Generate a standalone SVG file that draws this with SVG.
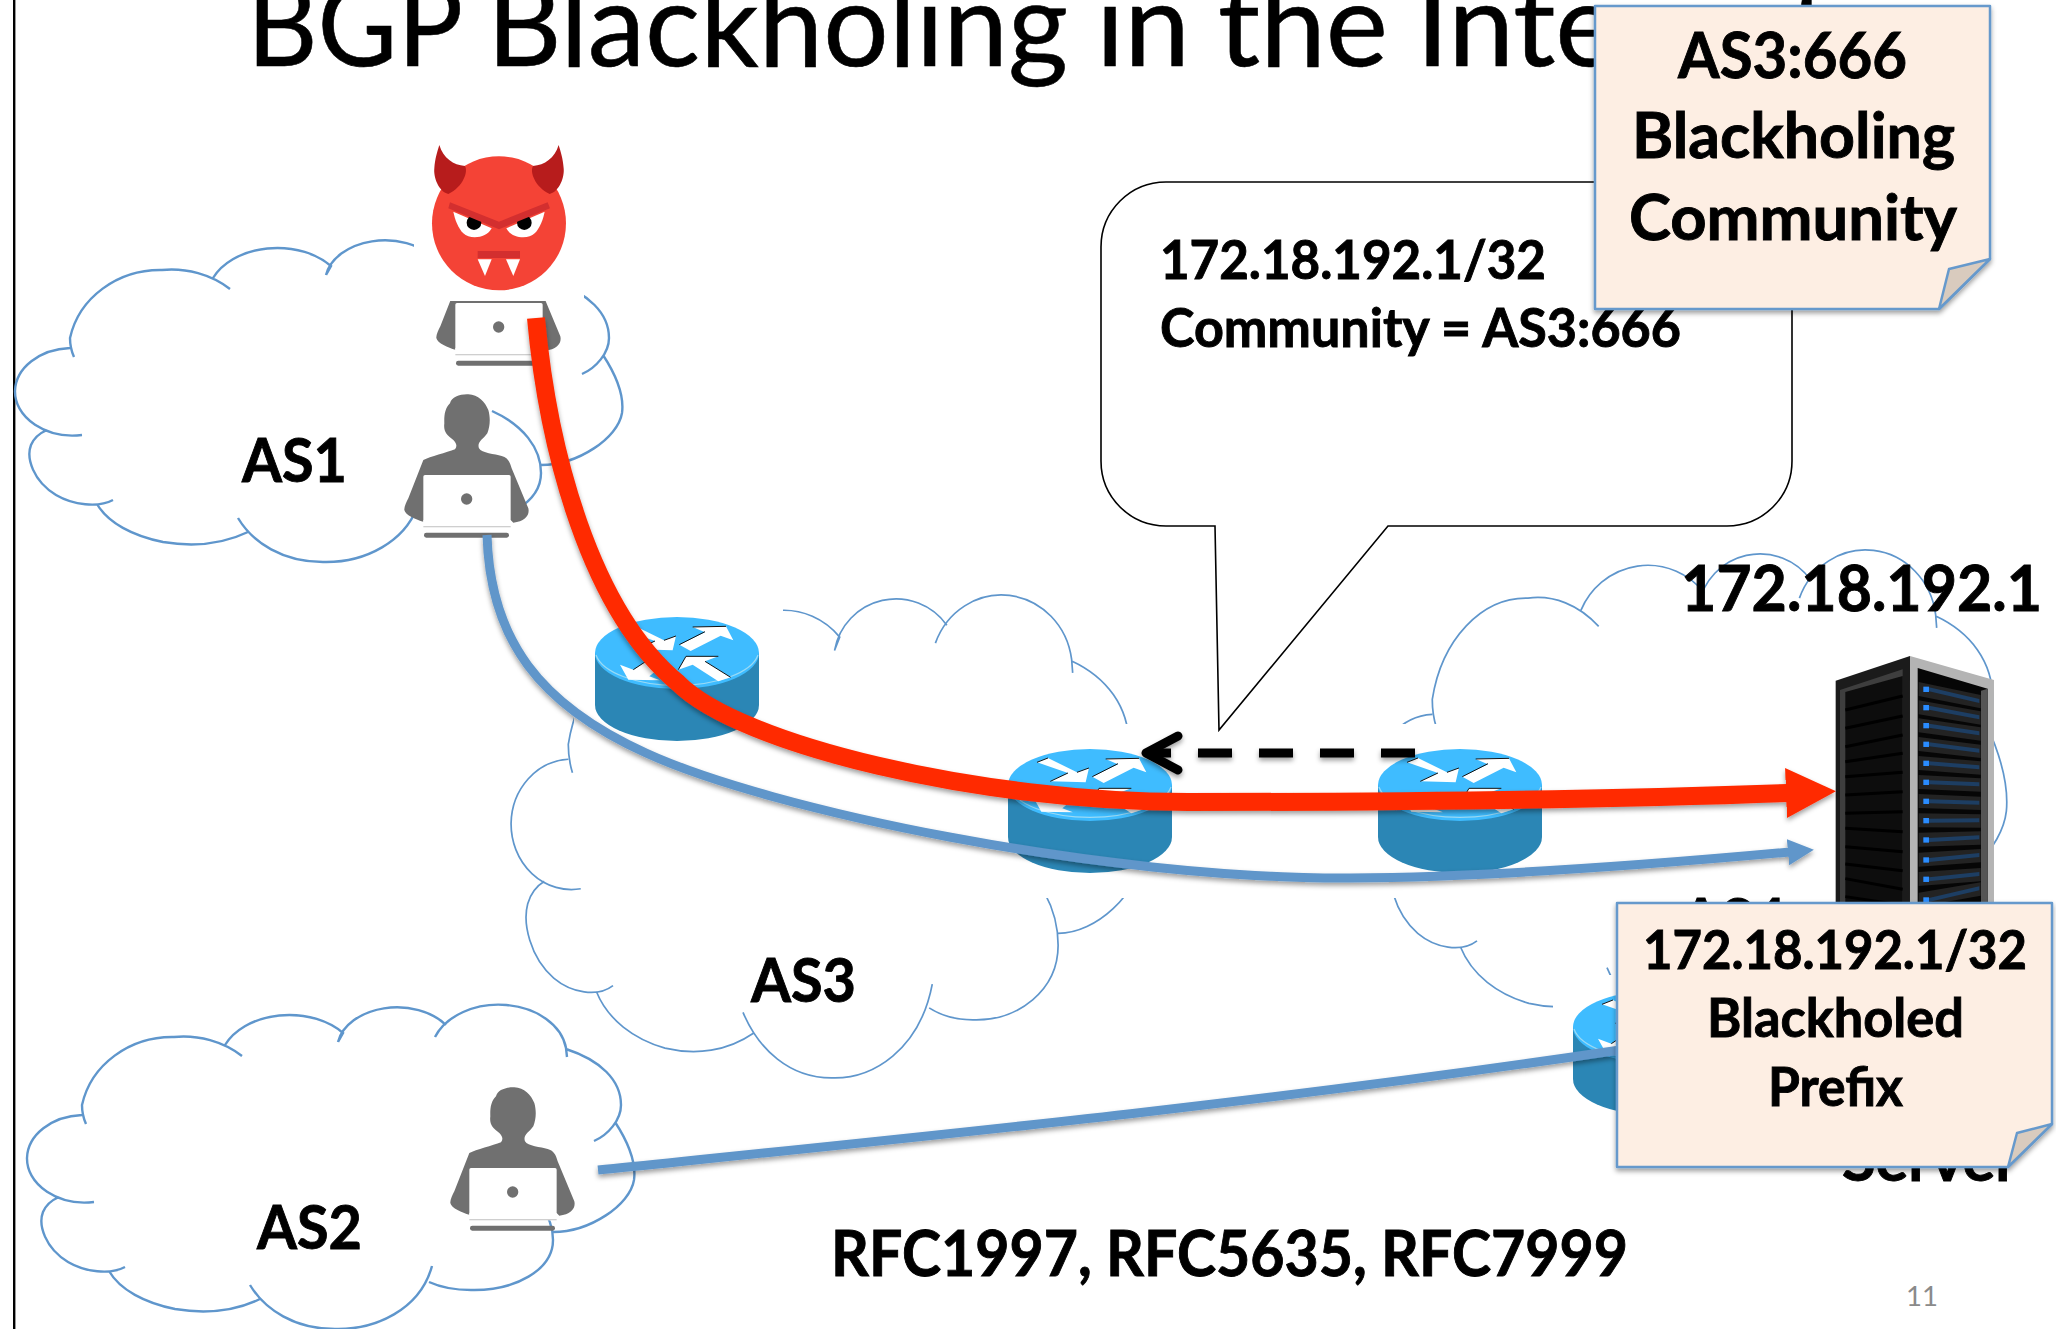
<svg xmlns="http://www.w3.org/2000/svg" width="2056" height="1329" viewBox="0 0 2056 1329">
<style>
text{font-family:"Lato","Noto Sans","Liberation Sans",sans-serif;fill:#000;font-weight:700;stroke:#000;stroke-width:.9}
.cloudline{fill:none;stroke:#5F96CC}
.c1{stroke-width:2.4}
.c2{stroke-width:1.7}
.note{fill:#FDEEE3;stroke:#6699CC;stroke-width:2.5;stroke-linejoin:round}
.fold{fill:#D9CBBE;stroke:#6699CC;stroke-width:2.5;stroke-linejoin:round}
.red{fill:none;stroke:#FF2A00;stroke-width:18}
.blue{fill:none;stroke:#6196CA;stroke-width:9}
.row{fill:#232323}
.bar{fill:#1D3E63}
.led{fill:#2A8CFF}
.stripe{stroke:#000;stroke-width:9;fill:none}
.arr{fill:#fff}
.edge{fill:none;stroke:#111;stroke-width:3}
.gray{fill:#707070}
</style>
<defs>
<filter id="sh" filterUnits="userSpaceOnUse" x="0" y="0" width="2056" height="1329"><feDropShadow dx="0" dy="3" stdDeviation="2.5" flood-color="#000" flood-opacity=".38"/></filter>
<marker id="hRed" markerUnits="userSpaceOnUse" markerWidth="52" markerHeight="56" refX="2" refY="28" orient="auto"><path d="M0,3 L50,28 L0,53Z" fill="#FF2A00"/></marker>
<marker id="hBlue" markerUnits="userSpaceOnUse" markerWidth="30" markerHeight="30" refX="2" refY="15" orient="auto"><path d="M0,2 L26,15 L0,28Z" fill="#6196CA"/></marker>
<marker id="hOpen" markerUnits="userSpaceOnUse" markerWidth="50" markerHeight="50" refX="40" refY="25" orient="auto"><path d="M8,8 L40,25 L8,42" fill="none" stroke="#000" stroke-width="9" stroke-linecap="round" stroke-linejoin="round"/></marker>
<path id="cloud" class="cloudline" vector-effect="non-scaling-stroke" d="M242,1056 A92,85 0 0 0 174,1037 A92,85 0 0 0 82,1105 Q82,1115 86,1124
M225,1045 A70,50 0 0 1 343,1033 L338,1042
M338,1042 A60,42 0 0 1 446,1025
M435,1037 A68,50 0 0 1 566,1048 L567,1057
M566,1049 C600,1060 621,1080 621,1105 C621,1120 608,1135 594,1141
M615,1122 C630,1145 636,1165 634,1180 C630,1205 590,1232 553,1232
M504,1178 C535,1192 553,1215 553,1240 C553,1270 515,1291 471,1290 C455,1290 440,1287 429,1282
M432,1266 C420,1310 375,1330 335,1329 C295,1329 265,1310 250,1285
M260,1299 C235,1311 205,1314 175,1309 C145,1303 120,1290 109,1271
M125,1267 C110,1275 85,1272 68,1262 C45,1248 38,1225 43,1212 C46,1205 52,1200 59,1197
M94,1202 A58,44 0 0 1 27,1158 A58,44 0 0 1 82,1115"/>
<g id="router">
<path d="M0,36 V88 A82,36 0 0 0 164,88 V36Z" fill="#2B86B5"/>
<ellipse cx="82" cy="36" rx="82" ry="36" fill="#3FBCFF"/>
<path d="M1,38 A82,36 0 0 0 163,38" fill="none" stroke="#9ADAF5" stroke-width="1.2"/>
<g transform="scale(.3333) translate(-15,-22)">
<polygon class="arr" points="268,105 345,68 308,52 408,50 430,92 392,78 302,124"/>
<polygon class="arr" points="102,62 135,49 222,92 258,79 248,122 142,119 195,94"/>
<polygon class="arr" points="90,165 130,180 168,155 205,178 178,200 210,212 115,210"/>
<polygon class="arr" points="288,140 385,140 345,155 422,203 385,215 308,165 265,180"/>
<path class="edge" d="M268,105 L345,66 M308,52 L408,50 M102,62 L135,49 M142,119 L195,94 M222,92 L258,79 M130,180 L168,155 M288,140 L385,140 M345,155 L422,203 M265,180 L288,140"/>
</g>
</g>
<g id="person">
<path class="gray" d="M70,240 C90,230 140,218 165,208 C172,200 170,190 160,180 C140,165 130,155 133,130 C132,105 135,85 150,70 C155,50 180,42 205,43 C235,45 255,65 265,90 C272,115 270,140 262,160 C250,178 230,185 237,205 C245,220 285,222 305,228 C322,232 330,245 335,265 L385,385 C390,405 375,425 340,428 L332,420 L70,420 L70,425 C50,420 15,405 13,390 C12,380 20,365 25,355Z"/>
<rect x="70" y="285" width="262" height="157" rx="5" fill="#fff"/>
<rect x="70" y="438" width="262" height="4" fill="#cfcfcf"/>
<circle cx="200" cy="357" r="17" class="gray"/>
<rect x="72" y="458" width="255" height="15" rx="7" class="gray"/>
</g>
<clipPath id="belowDevil"><rect x="400" y="301" width="200" height="80"/></clipPath>
</defs>
<rect width="2056" height="1329" fill="#fff"/>
<rect x="13" y="0" width="2.4" height="1329" fill="#000"/>
<text id="title" y="66" font-size="116" style="font-weight:400;stroke-width:.6"><tspan x="247" textLength="213" lengthAdjust="spacingAndGlyphs">BGP</tspan> <tspan x="487" textLength="581" lengthAdjust="spacingAndGlyphs">Blackholing</tspan> <tspan x="1096" textLength="94" lengthAdjust="spacingAndGlyphs">in</tspan> <tspan x="1218" textLength="170" lengthAdjust="spacingAndGlyphs">the</tspan> <tspan x="1416" textLength="415" lengthAdjust="spacingAndGlyphs">Internet</tspan></text>

<g id="AS1-cloud"><use href="#cloud" class="c1" transform="translate(-12,-767)"/></g>
<g id="AS2-cloud"><use href="#cloud" class="c1"/></g>
<g id="AS3-cloud"><use href="#cloud" class="c2" transform="translate(483,-901) scale(1.04,1.489)"/></g>
<g id="AS4-cloud"><use href="#cloud" class="c2" transform="translate(1347,-947) scale(1.04,1.49)"/></g>

<g id="user-AS1"><use href="#person" transform="translate(400,380) scale(.3333)"/></g>
<g id="user-AS2"><use href="#person" transform="translate(446,1073) scale(.3333)"/></g>
<g id="attacker-laptop" clip-path="url(#belowDevil)"><use href="#person" transform="translate(432,208) scale(.3333)"/></g>

<g id="image-backgrounds" fill="#fff">
<rect x="414" y="130" width="170" height="171"/>
<rect x="574" y="600" width="209" height="145"/>
<rect x="1000" y="724" width="550" height="174"/>
<rect x="1553" y="975" width="70" height="140"/>
</g>

<g id="router-1"><use href="#router" x="595" y="617"/></g>
<g id="router-2"><use href="#router" x="1008" y="749"/></g>
<g id="router-3"><use href="#router" x="1378" y="749"/></g>
<g id="router-4"><use href="#router" x="1573" y="991"/></g>

<g id="server" transform="translate(1820,640) scale(.3333)">
<polygon points="47,122 270,48 270,800 47,800" fill="#1B1B1B"/>
<polygon points="60,150 248,88 248,800 60,800" fill="#3E3E3E"/>
<polygon points="76,156 248,108 248,800 76,800" fill="#0D0D0D"/>
<path class="stripe" d="M76,210 L248,168 M76,265 L248,228 M76,320 L248,285 M76,365 L248,340 M76,410 L248,397 M76,465 L248,455 M76,520 L248,515 M76,565 L248,575 M76,620 L248,635 M76,672 L248,692 M76,716 L248,748 M76,770 L248,796"/>
<polygon points="270,48 522,120 522,800 270,800" fill="#B4B4B4"/>
<polygon points="293,84 503,146 503,800 293,800" fill="#060606"/>
<polygon points="483,152 503,146 503,800 483,800" fill="#555"/>
<g>
<polygon class="row" points="296,126 482,165 482,205 296,168"/><polygon class="bar" points="327,142 478,177 478,189 327,154"/><rect class="led" x="310" y="140" width="17" height="16"/>
<polygon class="row" points="296,181 482,214 482,254 296,223"/><polygon class="bar" points="327,197 478,226 478,238 327,209"/><rect class="led" x="310" y="195" width="17" height="16"/>
<polygon class="row" points="296,235 482,262 482,302 296,277"/><polygon class="bar" points="327,251 478,274 478,286 327,263"/><rect class="led" x="310" y="249" width="17" height="16"/>
<polygon class="row" points="296,291 482,314 482,354 296,333"/><polygon class="bar" points="327,307 478,326 478,338 327,319"/><rect class="led" x="310" y="305" width="17" height="16"/>
<polygon class="row" points="296,348 482,364 482,404 296,390"/><polygon class="bar" points="327,364 478,376 478,388 327,376"/><rect class="led" x="310" y="362" width="17" height="16"/>
<polygon class="row" points="296,405 482,415 482,455 296,447"/><polygon class="bar" points="327,421 478,427 478,439 327,433"/><rect class="led" x="310" y="419" width="17" height="16"/>
<polygon class="row" points="296,462 482,470 482,510 296,504"/><polygon class="bar" points="327,478 478,482 478,494 327,490"/><rect class="led" x="310" y="476" width="17" height="16"/>
<polygon class="row" points="296,520 482,523 482,563 296,562"/><polygon class="bar" points="327,536 478,535 478,547 327,548"/><rect class="led" x="310" y="534" width="17" height="16"/>
<polygon class="row" points="296,578 482,574 482,614 296,620"/><polygon class="bar" points="327,594 478,586 478,598 327,606"/><rect class="led" x="310" y="592" width="17" height="16"/>
<polygon class="row" points="296,638 482,627 482,667 296,680"/><polygon class="bar" points="327,654 478,639 478,651 327,666"/><rect class="led" x="310" y="652" width="17" height="16"/>
<polygon class="row" points="296,696 482,684 482,724 296,738"/><polygon class="bar" points="327,712 478,696 478,708 327,724"/><rect class="led" x="310" y="710" width="17" height="16"/>
<polygon class="row" points="296,758 482,727 482,767 296,800"/><polygon class="bar" points="327,774 478,739 478,751 327,786"/><rect class="led" x="310" y="772" width="17" height="16"/>
</g>
</g>

<g id="attacker" transform="translate(400,130) scale(.3333)">
<circle cx="297" cy="280" r="201" fill="#F44336"/>
<path d="M118,45 C130,85 160,105 195,108 C205,125 190,170 145,192 C115,185 100,140 103,115 C105,85 112,65 118,45Z" fill="#B71C1C"/>
<path d="M476,45 C464,85 434,105 399,108 C389,125 404,170 449,192 C479,185 494,140 491,115 C489,85 482,65 476,45Z" fill="#B71C1C"/>
<path d="M160,245 L275,295 C260,325 210,330 190,310 C175,295 165,270 160,245Z" fill="#fff"/>
<path d="M434,245 L319,295 C334,325 384,330 404,310 C419,295 429,270 434,245Z" fill="#fff"/>
<circle cx="222" cy="278" r="22" fill="#000"/>
<circle cx="373" cy="278" r="22" fill="#000"/>
<polygon points="150,217 297,275 443,217 450,235 297,298 145,235" fill="#D32F2F"/>
<rect x="233" y="363" width="127" height="21" fill="#D32F2F"/>
<polygon points="233,388 275,388 255,438" fill="#fff"/>
<polygon points="318,388 360,388 340,438" fill="#fff"/>
</g>

<g id="bubble">
<path d="M1166,182 H1727 A65,65 0 0 1 1792,247 V461 A65,65 0 0 1 1727,526 H1388 L1219,730 L1215,526 H1166 A65,65 0 0 1 1101,461 V247 A65,65 0 0 1 1166,182Z" fill="#fff" stroke="#000" stroke-width="1.6"/>
<text x="1160" y="279" font-size="53" textLength="386" lengthAdjust="spacingAndGlyphs">172.18.192.1/32</text>
<text x="1160" y="347" font-size="53" textLength="521" lengthAdjust="spacingAndGlyphs">Community = AS3:666</text>
</g>

<g id="labels">
<text x="242" y="482" font-size="62" textLength="105" lengthAdjust="spacingAndGlyphs">AS1</text>
<text x="257" y="1249" font-size="62" textLength="105" lengthAdjust="spacingAndGlyphs">AS2</text>
<text x="751" y="1002" font-size="62" textLength="105" lengthAdjust="spacingAndGlyphs">AS3</text>
<text x="1681" y="942" font-size="62" textLength="105" lengthAdjust="spacingAndGlyphs">AS4</text>
<text x="1681" y="611" font-size="63" textLength="361" lengthAdjust="spacingAndGlyphs">172.18.192.1</text>
<text x="1842" y="1181" font-size="62" textLength="176" lengthAdjust="spacingAndGlyphs">Server</text>
<text x="831" y="1276" font-size="63" textLength="797" lengthAdjust="spacingAndGlyphs">RFC1997, RFC5635, RFC7999</text>
<text x="1906" y="1306" font-size="26" textLength="32" lengthAdjust="spacingAndGlyphs" style="font-weight:400;fill:#8A8A8A;stroke:none">11</text>
</g>

<g id="connectors">
<path class="blue" filter="url(#sh)" marker-end="url(#hBlue)" d="M487,535 C490,640 540,705 646,753 C770,810 1100,879 1350,878 C1500,877 1680,862 1790,852"/>
<path class="blue" filter="url(#sh)" d="M598,1170 C900,1139 1250,1105 1620,1050"/>
<path class="red" filter="url(#sh)" marker-end="url(#hRed)" d="M536,318 C548,450 590,610 678,683 C740,745 980,802 1188,802 C1400,802 1600,800 1788,793"/>
<path filter="url(#sh)" d="M1415,753 H1146" fill="none" stroke="#000" stroke-width="9" stroke-dasharray="34 27" marker-end="url(#hOpen)"/>
</g>

<g id="note-community" filter="url(#sh)">
<path class="note" d="M1595,6 H1990 V259 L1939,309 H1595Z"/>
<path class="fold" d="M1990,259 L1949,269 L1939,309Z"/>
</g>
<g id="note-community-text">
<text x="1678" y="78" font-size="63" textLength="229" lengthAdjust="spacingAndGlyphs">AS3:666</text>
<text x="1632" y="158" font-size="63" textLength="323" lengthAdjust="spacingAndGlyphs">Blackholing</text>
<text x="1629" y="240" font-size="63" textLength="328" lengthAdjust="spacingAndGlyphs">Community</text>
</g>
<g id="note-prefix" filter="url(#sh)">
<path class="note" d="M1617,903 H2052 V1124 L2008,1167 H1617Z"/>
<path class="fold" d="M2052,1124 L2017,1133 L2008,1167Z"/>
</g>
<g id="note-prefix-text">
<text x="1643" y="969" font-size="53" textLength="384" lengthAdjust="spacingAndGlyphs">172.18.192.1/32</text>
<text x="1707" y="1037" font-size="53" textLength="257" lengthAdjust="spacingAndGlyphs">Blackholed</text>
<text x="1768" y="1106" font-size="53" textLength="135" lengthAdjust="spacingAndGlyphs">Prefix</text>
</g>
</svg>
